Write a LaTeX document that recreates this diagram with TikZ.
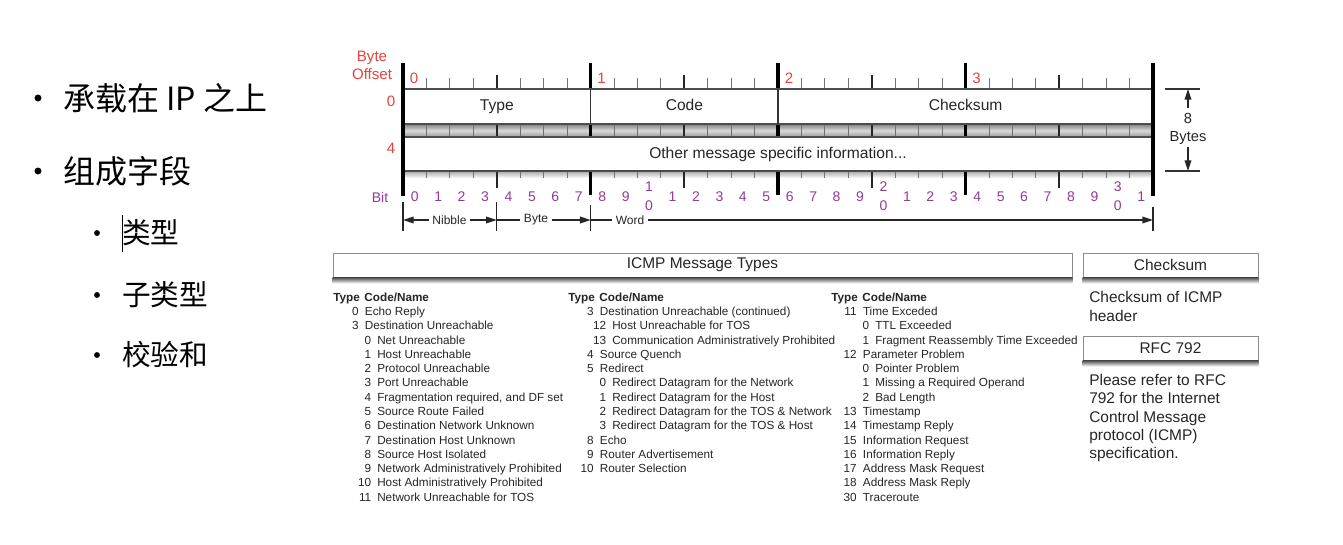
\documentclass[tikz,border=0pt]{standalone}
\usepackage{fontspec}
\setmainfont{Liberation Sans}
\newfontfamily\cjk{Noto Sans CJK SC}
\usetikzlibrary{arrows.meta,calc}
\definecolor{offred}{HTML}{E8433C}
\definecolor{bitpurple}{HTML}{913C93}
\definecolor{inkgray}{HTML}{262626}
\newcommand{\tyrow}[2]{\makebox[19pt][r]{#1}\hspace{4.8pt}#2}
\newcommand{\cdrow}[2]{\makebox[28.5pt][r]{#1}\hspace{4.5pt}#2}
\newcommand{\tabhead}{\textbf{Type}\hspace{3.5pt}\textbf{Code/Name}}

\begin{document}
\begin{tikzpicture}[x=0.75pt, y=-0.75pt,
  item/.style={font=\cjk\fontsize{24}{28}\selectfont, anchor=west, inner sep=0pt},
  subitem/.style={font=\cjk\fontsize{21.5}{26}\selectfont, anchor=west, inner sep=0pt},
  bullet/.style={circle, fill=black, inner sep=0pt, minimum size=#1},
  bullet/.default=5.2pt,
  tick/.style={draw=black!55, line width=0.6pt},
  nibtick/.style={draw=black!85, line width=1.3pt},
  rowbox/.style={fill=white, draw=black!70, line width=0.8pt},
  field/.style={font=\fontsize{11.7}{14}\selectfont, text=inkgray, inner sep=1pt,
    text height=8.5pt, text depth=2.5pt},
  offlbl/.style={font=\fontsize{11.3}{13.5}\selectfont, text=offred, inner sep=0pt},
  bitnum/.style={font=\fontsize{10.5}{14}\selectfont, text=bitpurple, inner sep=0pt},
  dimtxt/.style={font=\fontsize{9}{11}\selectfont, text=inkgray, inner sep=2.5pt},
  dimarr/.style={draw=black!85, line width=1pt, -{Triangle[length=8pt,width=5pt]}},
  dimline/.style={draw=black!85, line width=1pt},
  hdrbox/.style={draw=black!45, line width=0.6pt, fill=white, minimum height=18pt,
    font=\fontsize{11.6}{14}\selectfont, text=inkgray, inner sep=0pt},
  boxshadow/.style={top color=black!70, bottom color=white},
  tabcol/.style={anchor=north west, align=left, inner sep=0pt,
    font=\fontsize{8.8}{10.71}\selectfont, text=inkgray},
  bodytxt/.style={anchor=north west, align=left, inner sep=0pt, text=inkgray},
]
  \fill[white] (0,0) rectangle (1343,544);
  \useasboundingbox (0,0) rectangle (1343,544);

  % bullet list
  \node[bullet] (d1) at (38,98) {};
  \node[item] (i1) at (63,98) {承载在 IP 之上};
  \node[bullet] (d2) at (38,171) {};
  \node[item] (i2) at (63,171) {组成字段};
  \node[bullet=4.4pt] (d3) at (97,233) {};
  \node[subitem] (i3) at (122,233) {类型};
  \node[bullet=4.4pt] (d4) at (97,295) {};
  \node[subitem] (i4) at (122,295) {子类型};
  \node[bullet=4.4pt] (d5) at (97,355) {};
  \node[subitem] (i5) at (122,355) {校验和};
  \draw[line width=0.6pt] (122,215) -- (122,252);

  % header layout
  \shade[top color=black!50, bottom color=black!40, middle color=black!15] (403,124) rectangle (1153,137);
  \shade[top color=black!35, bottom color=white] (403,171) rectangle (1153,178);
  \foreach \i in {1,...,31} {
    \pgfmathsetmacro{\xx}{403+\i*23.4375}
    \draw[tick] (\xx,78) -- (\xx,89) (\xx,124) -- (\xx,137) (\xx,171) -- (\xx,178);
  }
  \foreach \i in {4,12,20,28} {
    \pgfmathsetmacro{\xx}{403+\i*23.4375}
    \draw[nibtick] (\xx,75) -- (\xx,89) (\xx,124) -- (\xx,137) (\xx,171) -- (\xx,188);
  }
  \foreach \i/\w in {8/1.6pt,16/3pt,24/1.6pt} {
    \pgfmathsetmacro{\xx}{403+\i*23.4375}
    \draw[line width=\w] (\xx,63) -- (\xx,195);
  }
  \draw[rowbox] (403,89) rectangle (1153,124);
  \draw[rowbox] (403,137) rectangle (1153,171);
  \draw[black!80, line width=0.8pt] (590.625,89) -- (590.625,124) (778,89) -- (778,124);
  \draw[line width=3pt] (403,63) -- (403,196) (1153,63) -- (1153,196);

  \node[field] (ftype) at (496.8,106.5) {Type};
  \node[field] (fcode) at (684.4,106.5) {Code};
  \node[field] (fcheck) at (965.6,106.5) {Checksum};
  \node[field] (fother) at (778,154) {Other message specific information...};

  \node[offlbl, align=center] (offset) at (372,65) {Byte\\Offset};
  \node[offlbl] (off0) at (391,101.5) {0};
  \node[offlbl] (off4) at (391,148) {4};
  \foreach \b in {0,...,3}
    \node[offlbl] (byte\b) at ({403+\b*187.5+11},78) {\b};

  \node[bitnum] (bitlbl) at (380,197) {Bit};
  \foreach \i in {0,...,31} {
    \pgfmathtruncatemacro{\d}{mod(\i,10)}
    \pgfmathtruncatemacro{\t}{floor(\i/10)}
    \ifnum\d=0 \ifnum\t>0
      \node[bitnum, align=center] (bit\i) at ({403+(\i+0.5)*23.4375},196.5) {\t\\0};
    \else
      \node[bitnum] (bit\i) at ({403+(\i+0.5)*23.4375},197) {\d};
    \fi \else
      \node[bitnum] (bit\i) at ({403+(\i+0.5)*23.4375},197) {\d};
    \fi
  }

  % nibble / byte / word
  \coordinate (nb0) at (403,220);
  \coordinate (nb1) at (496.75,220);
  \coordinate (nb2) at (590.625,220);
  \coordinate (nb3) at (1153,220);
  \draw[dimline] (403,202) -- (403,231) (496.75,202) -- (496.75,231)
    (590.625,205) -- (590.625,231) (1153,207) -- (1153,231);
  \node[dimtxt] (nibble) at (449.5,220) {Nibble};
  \node[dimtxt] (byte) at (536,220) {Byte};
  \node[dimtxt] (word) at (630,220) {Word};
  \draw[dimarr] (nibble) -- (nb0);
  \draw[dimarr] (nibble) -- (nb1);
  \draw[dimline] (byte) -- (nb1);
  \draw[dimarr] (byte) -- (nb2);
  \draw[dimline] (word) -- (nb2);
  \draw[dimarr] (word) -- (nb3);

  % 8 bytes
  \draw[black!80, line width=0.8pt] (1165,89) -- (1200,89) (1165,171) -- (1200,171);
  \coordinate (szt) at (1188,89);
  \coordinate (szb) at (1188,171);
  \node[field, font=\fontsize{11}{13}\selectfont, inner sep=3pt] (eight) at (1188,119.5) {8};
  \node[field, font=\fontsize{11}{13}\selectfont, inner sep=2pt] (bytes) at (1188,137) {Bytes};
  \draw[dimarr] (eight) -- (szt);
  \draw[dimarr] (bytes) -- (szb);

  % lower boxes
  \node[hdrbox, minimum width=554.25pt] (mtypes) at (702.5,265) {ICMP Message Types};
  \node[hdrbox, minimum width=131.25pt] (cksum) at (1170.5,265) {Checksum};
  \node[hdrbox, minimum width=131.25pt] (rfc) at (1170.5,348) {RFC 792};
  \foreach \bx in {mtypes,cksum,rfc}
    \shade[boxshadow] (\bx.south west) rectangle ($(\bx.south east)+(0,6)$);

  \node[tabcol] (col1) at (333,292.5) {\tabhead\\
    \tyrow{0}{Echo Reply}\\
    \tyrow{3}{Destination Unreachable}\\
    \cdrow{0}{Net Unreachable}\\
    \cdrow{1}{Host Unreachable}\\
    \cdrow{2}{Protocol Unreachable}\\
    \cdrow{3}{Port Unreachable}\\
    \cdrow{4}{Fragmentation required, and DF set}\\
    \cdrow{5}{Source Route Failed}\\
    \cdrow{6}{Destination Network Unknown}\\
    \cdrow{7}{Destination Host Unknown}\\
    \cdrow{8}{Source Host Isolated}\\
    \cdrow{9}{Network Administratively Prohibited}\\
    \cdrow{10}{Host Administratively Prohibited}\\
    \cdrow{11}{Network Unreachable for TOS}};
  \node[tabcol] (col2) at (568,292.5) {\tabhead\\
    \tyrow{3}{Destination Unreachable (continued)}\\
    \cdrow{12}{Host Unreachable for TOS}\\
    \cdrow{13}{Communication Administratively Prohibited}\\
    \tyrow{4}{Source Quench}\\
    \tyrow{5}{Redirect}\\
    \cdrow{0}{Redirect Datagram for the Network}\\
    \cdrow{1}{Redirect Datagram for the Host}\\
    \cdrow{2}{Redirect Datagram for the TOS \& Network}\\
    \cdrow{3}{Redirect Datagram for the TOS \& Host}\\
    \tyrow{8}{Echo}\\
    \tyrow{9}{Router Advertisement}\\
    \tyrow{10}{Router Selection}};
  \node[tabcol] (col3) at (831,292.5) {\tabhead\\
    \tyrow{11}{Time Exceded}\\
    \cdrow{0}{TTL Exceeded}\\
    \cdrow{1}{Fragment Reassembly Time Exceeded}\\
    \tyrow{12}{Parameter Problem}\\
    \cdrow{0}{Pointer Problem}\\
    \cdrow{1}{Missing a Required Operand}\\
    \cdrow{2}{Bad Length}\\
    \tyrow{13}{Timestamp}\\
    \tyrow{14}{Timestamp Reply}\\
    \tyrow{15}{Information Request}\\
    \tyrow{16}{Information Reply}\\
    \tyrow{17}{Address Mask Request}\\
    \tyrow{18}{Address Mask Reply}\\
    \tyrow{30}{Traceroute}};

  \node[bodytxt, font=\fontsize{11.6}{14.25}\selectfont] (ckdesc) at (1089,291) {Checksum of ICMP\\header};
  \node[bodytxt, font=\fontsize{11.6}{13.75}\selectfont] (rfcdesc) at (1089,374) {Please refer to RFC\\792 for the Internet\\Control Message\\protocol (ICMP)\\specification.};
\end{tikzpicture}
\end{document}
